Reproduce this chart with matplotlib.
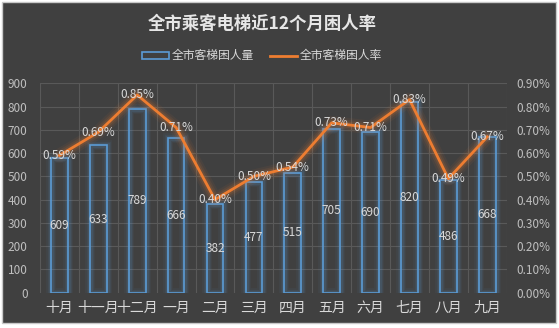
import matplotlib.pyplot as plt
from matplotlib.patches import Rectangle
from matplotlib.ticker import FuncFormatter
import numpy as np

plt.rcParams['font.family'] = ['Noto Sans CJK SC', 'DejaVu Sans']

months = ['十月', '十一月', '十二月', '一月', '二月', '三月', '四月', '五月', '六月', '七月', '八月', '九月']
# bar heights as drawn in the picture (first bar is drawn lower than its label)
bar_heights = [577, 633, 789, 666, 382, 477, 515, 705, 690, 820, 486, 668]
bar_labels = ['609', '633', '789', '666', '382', '477', '515', '705', '690', '820', '486', '668']
rates = [0.59, 0.69, 0.85, 0.71, 0.40, 0.50, 0.54, 0.73, 0.71, 0.83, 0.49, 0.67]

bg = '#404040'
blue = '#5b9bd5'
orange = '#ed7d31'
txt = '#d9d9d9'
grid_c = '#595959'

fig = plt.figure(figsize=(5.59, 3.28), dpi=100, facecolor='white')
fig.patches.append(Rectangle((2 / 559, 1 - 323 / 328), 554 / 559, 321 / 328,
                             transform=fig.transFigure, facecolor=bg,
                             edgecolor='#c8c8c8', linewidth=1, zorder=-10))

ax = fig.add_axes([40 / 559, 1 - 292.7 / 328, 466.7 / 559, 209.4 / 328])
ax.set_facecolor('none')
x = np.arange(len(months))

# glow around bars
for lw, a in [(7, 0.06), (5, 0.08), (3.5, 0.12)]:
    ax.bar(x, bar_heights, width=0.43, facecolor='none', edgecolor=blue,
           linewidth=lw, alpha=a, zorder=2)
ax.bar(x, bar_heights, width=0.43, facecolor='none', edgecolor=blue,
       linewidth=1.2, zorder=3, label='全市客梯困人量')

for i in range(len(months)):
    ax.text(x[i], bar_heights[i] / 2, bar_labels[i], ha='center', va='center',
            color=txt, fontsize=8.5, zorder=6)

ax.set_xlim(-0.5, len(months) - 0.5)
ax.set_ylim(0, 900)
ax.set_yticks(range(0, 901, 100))
ax.set_xticks(x)
ax.set_xticklabels(months, fontsize=10, color=txt)
ax.tick_params(axis='y', colors='#bfbfbf', labelsize=8.5, length=0, pad=9)
ax.tick_params(axis='x', length=0, pad=6)
for s in ax.spines.values():
    s.set_visible(False)
for yy in range(100, 901, 100):
    ax.axhline(yy, color=grid_c, linewidth=0.8, zorder=1)
for xx in np.arange(-0.5, len(months), 1):
    ax.axvline(xx, color=grid_c, linewidth=0.8, zorder=1)

ax2 = ax.twinx()
ax2.set_ylim(0, 0.9)
ax2.set_yticks(np.arange(0, 0.91, 0.1))
ax2.yaxis.set_major_formatter(FuncFormatter(lambda v, p: '%.2f%%' % v))
ax2.tick_params(axis='y', colors='#bfbfbf', labelsize=8.5, length=0, pad=7)
for s in ax2.spines.values():
    s.set_visible(False)

for lw, a in [(10, 0.06), (7, 0.09), (4.5, 0.14)]:
    ax2.plot(x, rates, color=orange, linewidth=lw, alpha=a,
             solid_joinstyle='round', solid_capstyle='round', zorder=2)
ax2.plot(x, rates, color=orange, linewidth=2, zorder=3, label='全市客梯困人率')
for i in range(len(months)):
    ax2.text(x[i], rates[i], '%.2f%%' % rates[i], ha='center', va='center',
             color=txt, fontsize=8.5, zorder=6)

fig.text(262 / 559, 1 - 24 / 328, '全市乘客电梯近12个月困人率', ha='center', va='center',
         fontsize=12.5, fontweight='bold', color='#e6e6e6')

h1, l1 = ax.get_legend_handles_labels()
h2, l2 = ax2.get_legend_handles_labels()
leg = fig.legend(h1 + h2, l1 + l2, loc='center', bbox_to_anchor=(262 / 559, 1 - 56 / 328),
                 ncol=2, frameon=False, fontsize=8.5, labelcolor=txt,
                 handlelength=2.3, handleheight=0.6, columnspacing=1.4, handletextpad=0.2)

fig.savefig('out.png', dpi=100, facecolor='white')
